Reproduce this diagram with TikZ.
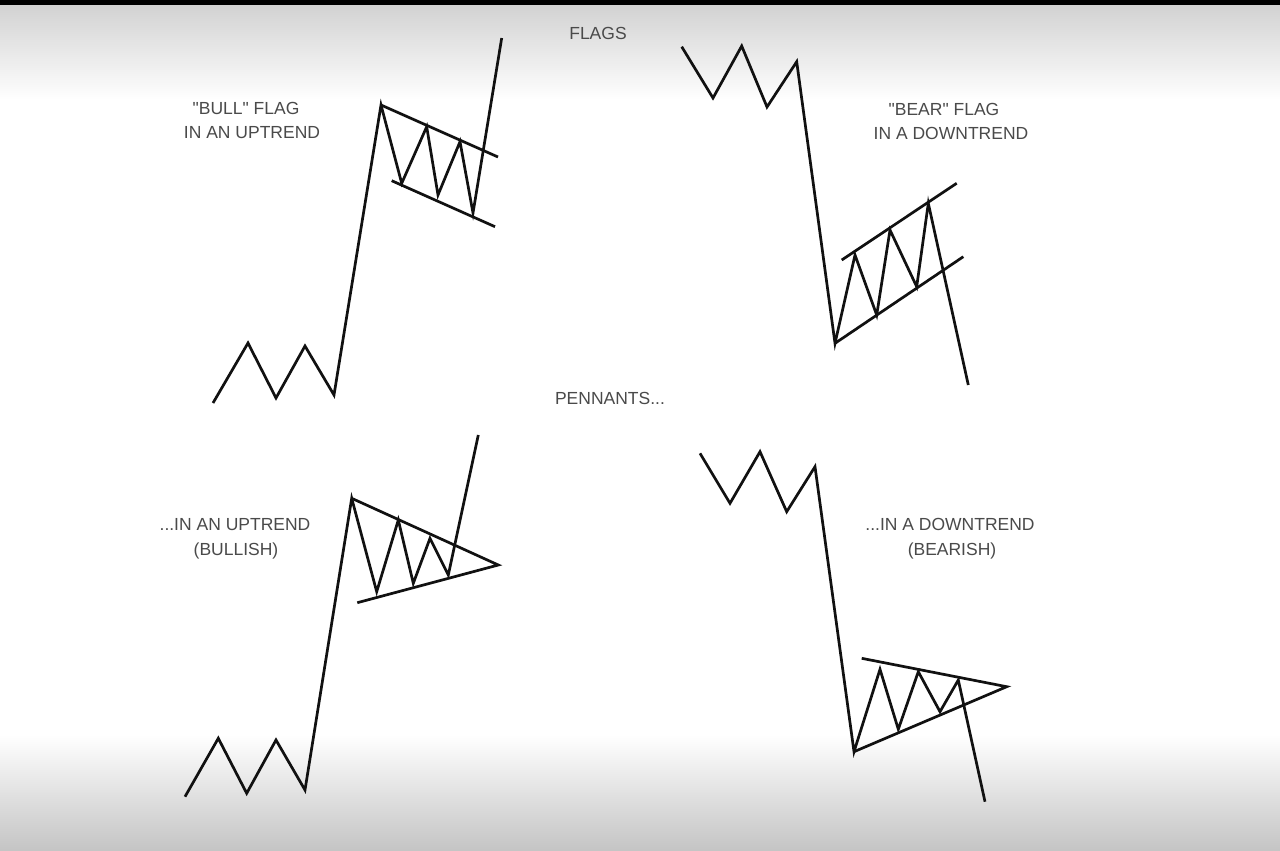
\documentclass[tikz,border=0pt]{standalone}
\usepackage{fontspec}
\setmainfont{Liberation Sans}[Ligatures=TeXOff]
\definecolor{ink}{HTML}{111111}
\definecolor{txt}{HTML}{4A4A4A}
\definecolor{bgtop}{HTML}{D2D2D2}
\definecolor{bgbot}{HTML}{C4C4C4}
\tikzset{
  chart/.style={draw=ink, line width=2.7pt, line join=miter, line cap=butt},
  label/.style={text=txt, font=\fontsize{17.5}{20}\selectfont, anchor=base, inner sep=0pt},
}
\begin{document}
\begin{tikzpicture}[x=1pt,y=-1pt]
\useasboundingbox (0,0) rectangle (1280,851);
% background
\fill[white] (0,0) rectangle (1280,851);
\shade[top color=bgtop, bottom color=white] (0,5) rectangle (1280,100);
\shade[top color=white, bottom color=bgbot] (0,735) rectangle (1280,851);
\fill[black] (0,0) rectangle (1280,5);

% ---------- Bull flag ----------
\coordinate (a1) at (213,403);
\coordinate (a2) at (248,343);
\coordinate (a3) at (276,398);
\coordinate (a4) at (305,346);
\coordinate (a5) at (334,395);
\coordinate (a6) at (381,105);
\coordinate (a7) at (401.7,183.3);
\coordinate (a8) at (426.7,126.7);
\coordinate (a9) at (438,195);
\coordinate (a10) at (460,141.7);
\coordinate (a11) at (473,213);
\coordinate (a12) at (501.7,38);
\coordinate (au) at (498,157);
\coordinate (al1) at (391.7,180.7);
\coordinate (al2) at (495,226.7);
\draw[chart] (a1)--(a2)--(a3)--(a4)--(a5)--(a6)--(a7)--(a8)--(a9)--(a10)--(a11)--(a12);
\draw[chart] (a6)--(au);
\draw[chart] (al1)--(al2);

% ---------- Bear flag ----------
\coordinate (b1) at (681.7,46.7);
\coordinate (b2) at (713,98);
\coordinate (b3) at (741.7,46);
\coordinate (b4) at (767,107);
\coordinate (b5) at (796.7,61.7);
\coordinate (b6) at (835,343.3);
\coordinate (b7) at (855,255);
\coordinate (b8) at (876.7,315);
\coordinate (b9) at (890,230);
\coordinate (b10) at (916.7,286.7);
\coordinate (b11) at (928.3,203.3);
\coordinate (b12) at (968.3,385);
\coordinate (bu1) at (841.7,260);
\coordinate (bu2) at (956.7,183.3);
\coordinate (bl) at (963.3,256.7);
\draw[chart] (b1)--(b2)--(b3)--(b4)--(b5)--(b6)--(b7)--(b8)--(b9)--(b10)--(b11)--(b12);
\draw[chart] (bu1)--(bu2);
\draw[chart] (b6)--(bl);

% ---------- Bullish pennant ----------
\coordinate (c1) at (185,796.7);
\coordinate (c2) at (218.3,738.3);
\coordinate (c3) at (246.7,793.3);
\coordinate (c4) at (276,740);
\coordinate (c5) at (305,790);
\coordinate (c6) at (351.7,498.3);
\coordinate (c7) at (376.7,591.7);
\coordinate (c8) at (398.3,520);
\coordinate (c9) at (413.3,583.3);
\coordinate (c10) at (430,538.3);
\coordinate (c11) at (448.3,575);
\coordinate (c12) at (478.3,435);
\coordinate (capex) at (498.3,565);
\coordinate (cl) at (357.3,602.7);
\draw[chart] (c1)--(c2)--(c3)--(c4)--(c5)--(c6)--(c7)--(c8)--(c9)--(c10)--(c11)--(c12);
\draw[chart] (c6)--(capex)--(cl);

% ---------- Bearish pennant ----------
\coordinate (d1) at (700,453.3);
\coordinate (d2) at (730,503.3);
\coordinate (d3) at (760,451.7);
\coordinate (d4) at (786.7,511.7);
\coordinate (d5) at (815,466.7);
\coordinate (d6) at (854,751.7);
\coordinate (d7) at (880,669.3);
\coordinate (d8) at (898.3,729.3);
\coordinate (d9) at (918.3,671.7);
\coordinate (d10) at (940,711.7);
\coordinate (d11) at (958.3,680);
\coordinate (d12) at (985,801.7);
\coordinate (dapex) at (1006.7,686.7);
\coordinate (du) at (861.7,658.3);
\draw[chart] (d1)--(d2)--(d3)--(d4)--(d5)--(d6)--(d7)--(d8)--(d9)--(d10)--(d11)--(d12);
\draw[chart] (du)--(dapex)--(d6);

% ---------- Labels ----------
\node[label] (flags) at (598,40) {FLAGS};
\node[label] (bull1) at (246,114) {"BULL" FLAG};
\node[label] (bull2) at (252,138) {IN AN UPTREND};
\node[label] (bear1) at (944,115) {"BEAR" FLAG};
\node[label] (bear2) at (951,139) {IN A DOWNTREND};
\node[label] (pen) at (610,404) {PENNANTS...};
\node[label] (up1) at (235,530) {...IN AN UPTREND};
\node[label] (up2) at (236,555) {(BULLISH)};
\node[label] (dn1) at (950,530) {...IN A DOWNTREND};
\node[label] (dn2) at (952,555) {(BEARISH)};
\end{tikzpicture}
\end{document}
